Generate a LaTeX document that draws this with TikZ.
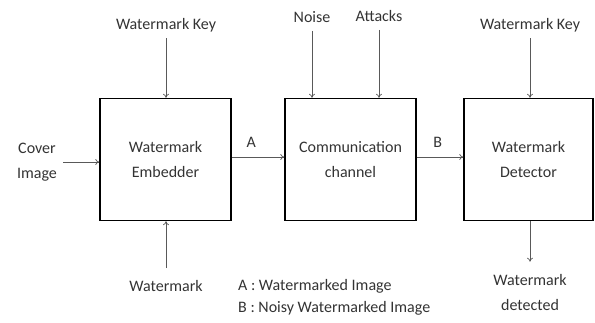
\documentclass[tikz,border=0pt]{standalone}
\usepackage{fontspec}
\setmainfont{Carlito}
\usepackage{xcolor}
\usetikzlibrary{arrows.meta}
\begin{document}
\begin{tikzpicture}[x=1pt,y=-1pt]
\tikzstyle{every node}+=[inner sep=0pt, text=black!80, font=\fontsize{16}{25}\selectfont, align=center]
\tikzstyle{blk}=[draw=black, line width=1.4pt, minimum height=122pt]
\tikzstyle{arr}=[draw=black!65, line width=0.7pt, -{To[length=4pt,width=6pt]}]
\useasboundingbox (0,0) rectangle (595,322);
% blocks
\node [blk, minimum width=131pt] (emb) at (165.5,159.5) {Watermark\\Embedder};
\node [blk, minimum width=131pt] (comm) at (350.5,159.5) {Communication\\channel};
\node [blk, minimum width=129pt] (det) at (528.5,159.5) {Watermark\\Detector};
% inputs and outputs
\node (key1) at (166,25) {Watermark Key};
\node (key2) at (530,25) {Watermark Key};
\node (noise) at (312,17) {Noise};
\node (attacks) at (379,16) {Attacks};
\node (cover) at (37,162) {Cover\\Image};
\node (mark) at (166,286) {Watermark};
\node (found) at (530,292) {Watermark\\detected};
\node [anchor=west, align=left, font=\fontsize{16}{22}\selectfont] (legend) at (238,297) {A : Watermarked Image\\B : Noisy Watermarked Image};
% connectors
\draw [arr, shorten <=6pt] (key1.south) -- (key1.south |- emb.north);
\draw [arr, shorten <=6pt] (key2.south) -- (key2.south |- det.north);
\draw [arr, shorten <=8pt] (noise.south) -- (noise.south |- comm.north);
\draw [arr, shorten <=8pt] (attacks.south) -- (attacks.south |- comm.north);
\draw [arr, shorten <=6pt] (cover.east) -- (cover.east -| emb.west);
\draw [arr, shorten <=12pt] (mark.north) -- (mark.north |- emb.south);
\draw [arr, shorten >=12pt] (det.south -| found.north) -- (found.north);
\draw [arr] ([yshift=2.5pt]emb.east) -- ([yshift=2.5pt]comm.west) node [pos=0.37, above=9pt] {A};
\draw [arr] ([yshift=2.5pt]comm.east) -- ([yshift=2.5pt]det.west) node [pos=0.45, above=9pt] {B};
\end{tikzpicture}
\end{document}
